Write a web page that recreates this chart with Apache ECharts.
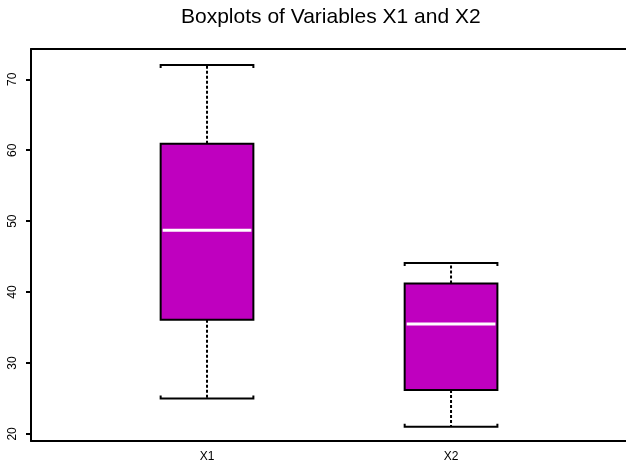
<!DOCTYPE html>
<html>
<head>
<meta charset="utf-8">
<script src="https://cdn.jsdelivr.net/npm/echarts@6/dist/echarts.min.js"></script>
<style>
	html, body { margin: 0; padding: 0; background: #fff; }
	#chart { width: 626px; height: 471px; }
</style>
</head>
<body>
<div id="chart"></div>
<script>
// data
const names = ['X1', 'X2'];
const lower = [25.0, 21.0];
const q1 = [36.1, 26.2];
const median = [48.7, 35.5];
const q3 = [60.9, 41.2];
const upper = [72.0, 44.1];
const yTicks = [20, 30, 40, 50, 60, 70];

const boxHalf = 0.19;
const fill = '#bf00bf';

let chart = echarts.init(document.getElementById('chart'));

let data = names.map((n, i) => [i + 1, lower[i], q1[i], median[i], q3[i], upper[i]]);

function renderItem(params, api) {
	let x = api.value(0);
	let lo = api.value(1), a = api.value(2), md = api.value(3), b = api.value(4), hi = api.value(5);
	let pLo = api.coord([x, lo]);
	let pA = api.coord([x, a]);
	let pMd = api.coord([x, md]);
	let pB = api.coord([x, b]);
	let pHi = api.coord([x, hi]);
	let xl = api.coord([x - boxHalf, md])[0];
	let xr = api.coord([x + boxHalf, md])[0];
	let solid = { stroke: '#000', lineWidth: 2 };
	let dotted = { stroke: '#000', lineWidth: 2, lineDash: [3, 2] };
	return {
		type: 'group',
		children: [
			// whiskers
			{ type: 'line', shape: { x1: pB[0], y1: pB[1], x2: pHi[0], y2: pHi[1] }, style: dotted },
			{ type: 'line', shape: { x1: pA[0], y1: pA[1], x2: pLo[0], y2: pLo[1] }, style: dotted },
			// caps
			{ type: 'polyline', shape: { points: [[xl, pHi[1] + 3], [xl, pHi[1]], [xr, pHi[1]], [xr, pHi[1] + 3]] }, style: Object.assign({ fill: null }, solid) },
			{ type: 'polyline', shape: { points: [[xl, pLo[1] - 3], [xl, pLo[1]], [xr, pLo[1]], [xr, pLo[1] - 3]] }, style: Object.assign({ fill: null }, solid) },
			// box
			{ type: 'rect', shape: { x: xl, y: pB[1], width: xr - xl, height: pA[1] - pB[1] }, style: { fill: fill, stroke: '#000', lineWidth: 2 } },
			// median
			{ type: 'line', shape: { x1: xl + 2, y1: pMd[1], x2: xr - 2, y2: pMd[1] }, style: { stroke: '#fff', lineWidth: 3 } }
		]
	};
}

let option = {
	animation: false,
	title: {
		text: 'Boxplots of Variables X1 and X2',
		left: 176,
		top: 2,
		textStyle: { fontFamily: 'Liberation Sans', fontSize: 21, fontWeight: 'normal', color: '#000' }
	},
	grid: { left: 31, top: 49, right: 0, bottom: 30 },
	xAxis: [
		{
			type: 'value',
			min: 0.2787,
			max: 2.717,
			splitLine: { show: false },
			axisLine: { show: true, onZero: false, lineStyle: { color: '#000', width: 2 } },
			axisTick: { show: false },
			axisLabel: {
				customValues: [1, 2],
				formatter: v => names[Math.round(v) - 1] || '',
				margin: 10,
				fontFamily: 'Liberation Sans',
				fontSize: 12,
				color: '#000'
			}
		},
		{
			type: 'value',
			position: 'top',
			min: 0.2787,
			max: 2.717,
			splitLine: { show: false },
			axisLine: { show: true, onZero: false, lineStyle: { color: '#000', width: 2 } },
			axisTick: { show: false },
			axisLabel: { show: false }
		}
	],
	yAxis: {
		type: 'value',
		min: 19.0,
		max: 74.27,
		splitLine: { show: false },
		axisLine: { show: true, onZero: false, lineStyle: { color: '#000', width: 2 } },
		axisTick: { show: true, customValues: yTicks, length: 5, lineStyle: { color: '#000', width: 2 } },
		axisLabel: {
			customValues: yTicks,
			rotate: 90,
			margin: 12,
			fontFamily: 'Liberation Sans',
			fontSize: 12,
			color: '#000'
		}
	},
	series: [{
		type: 'custom',
		renderItem: renderItem,
		encode: { x: 0, y: [1, 2, 3, 4, 5] },
		data: data
	}]
};

chart.setOption(option);
window.addEventListener('resize', () => {
	chart.resize();
});
</script>
</body>
</html>
